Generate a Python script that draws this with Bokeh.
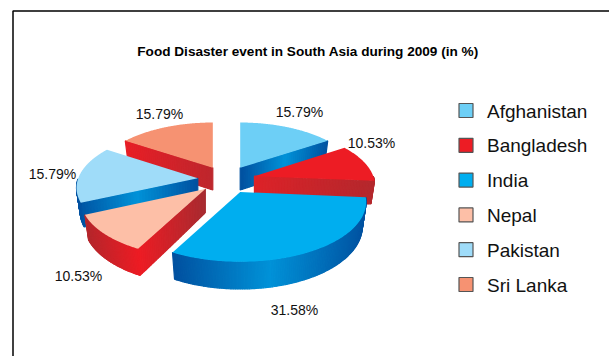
import math
from bokeh.core.properties import value
from bokeh.embed import file_html
from bokeh.models import ColumnDataSource, Range1d
from bokeh.plotting import figure
from bokeh.resources import INLINE

# Chart content
title_text = "Food Disaster event in South Asia during 2009 (in %)"
countries = ["Afghanistan", "Bangladesh", "India", "Nepal", "Pakistan", "Sri Lanka"]
shares = [15.79, 10.53, 31.58, 10.53, 15.79, 15.79]
top_colors = ["#6dcff6", "#ed1c24", "#00aeef", "#fdbfa7", "#9fdcf9", "#f69272"]

BLUE_WALL = [(0.0, "#00509f"), (0.5, "#0092d8"), (1.0, "#00509f")]
wall_ramps = {
    "Afghanistan": BLUE_WALL,
    "Bangladesh": [(0.0, "#dc2228"), (1.0, "#b3282d")],
    "India": [(0.0, "#00509f"), (0.5, "#0092d8"), (1.0, "#00509f")],
    "Nepal": [(0.0, "#b3282d"), (0.45, "#ed1c24"), (1.0, "#a62b30")],
    "Pakistan": BLUE_WALL,
    "Sri Lanka": [(0.0, "#e81e26"), (1.0, "#bd272d")],
}
label_anchor = {
    "Afghanistan": (299, 111), "Bangladesh": (371, 142), "India": (294, 309),
    "Nepal": (78, 275), "Pakistan": (52, 173), "Sri Lanka": (159, 113),
}
draw_order = ["Sri Lanka", "Afghanistan", "Pakistan", "Bangladesh", "Nepal", "India"]

# Pie projection, in page pixels
CX, CY = 226, 179
RX, RY = 120, 57.5
PERSP_X, PERSP_Y = 0.17, 0.15
EXPLODE = 0.24
DEPTH = 23


def project(apex, point, z=0.0):
    """Map a point given relative to its slice apex onto the page, z = 1 at the pie's base."""
    u, v = point
    py = apex[1] + v
    x = RX * (apex[0] + u * (1 + PERSP_X * py) * (1 - 0.03 * z))
    y = RY * py * (1 + PERSP_Y * py) + z * DEPTH * (1 + 0.15 * py)
    return CX + x, CY + y


def hex_rgb(c):
    return tuple(int(c[i:i + 2], 16) for i in (1, 3, 5))


def ramp_color(ramp, t):
    t = min(max(t, 0), 1)
    for (t0, c0), (t1, c1) in zip(ramp, ramp[1:]):
        if t <= t1:
            f = (t - t0) / (t1 - t0)
            a, b = hex_rgb(c0), hex_rgb(c1)
            return "#%02x%02x%02x" % tuple(round(a[i] + (b[i] - a[i]) * f) for i in range(3))
    return ramp[-1][1]


def slice_geometry(start, end):
    """Return the apex and rim of an exploded slice plus its visible wall paths."""
    mid = (start + end) / 2
    apex = (EXPLODE * math.sin(mid), -EXPLODE * math.cos(mid))
    n = 120
    rim = [start + (end - start) * i / n for i in range(n + 1)]
    rim_pts = [(math.sin(a), -math.cos(a)) for a in rim]
    paths = []
    if math.sin(start) < 0:
        paths.append([(0.0, 0.0), rim_pts[0]])
    front = [p for a, p in zip(rim, rim_pts) if math.cos(a) <= 0]
    if len(front) > 1:
        paths.append(front)
    if math.sin(end) > 0 and end < math.pi * 1.99:
        paths.append([rim_pts[-1], (0.0, 0.0)])
    return apex, rim_pts, paths


def subdivide(path, steps):
    out = []
    for (x0, y0), (x1, y1) in zip(path, path[1:]):
        for i in range(steps):
            f0, f1 = i / steps, (i + 1) / steps
            out.append(((x0 + (x1 - x0) * f0, y0 + (y1 - y0) * f0),
                        (x0 + (x1 - x0) * f1, y0 + (y1 - y0) * f1)))
    return out


p = figure(width=609, height=356, x_range=Range1d(0, 609), y_range=Range1d(356, 0),
           output_backend="svg", toolbar_location=None, min_border=0)
p.axis.visible = False
p.grid.visible = False
p.outline_line_color = None
p.background_fill_color = "white"
p.border_fill_color = "white"

# Chart frame, open on the right and bottom edges of the page
p.line([12.5, 12.5, 609], [356, 10.5, 10.5], line_color="black", line_width=1.5)

p.text([307.5], [51], text=[title_text], text_font=value("Liberation Sans"),
       text_font_style="bold", text_font_size="13.6px", text_align="center",
       text_baseline="middle", text_color="black")

# Slice angles accumulate clockwise from twelve o'clock
total = sum(shares)
spans = {}
running = 0.0
for name, share in zip(countries, shares):
    a0 = running / total * 2 * math.pi
    running += share
    spans[name] = (a0, running / total * 2 * math.pi)

for name in draw_order:
    i = countries.index(name)
    apex, rim_pts, paths = slice_geometry(*spans[name])
    segs = [s for path in paths for s in subdivide(path, 40 if len(path) == 2 else 1)]
    screen = [(project(apex, a), project(apex, a, 1), project(apex, b, 1), project(apex, b))
              for a, b in segs]
    xs_all = [q[0] for quad in screen for q in quad]
    lo, hi = min(xs_all), max(xs_all)
    xs, ys, colors = [], [], []
    for quad in screen:
        xs.append([q[0] for q in quad])
        ys.append([q[1] for q in quad])
        colors.append(ramp_color(wall_ramps[name], (sum(xs[-1]) / 4 - lo) / (hi - lo)))
    p.patches("xs", "ys", fill_color="colors", line_color="colors", line_width=1.2,
              source=ColumnDataSource(dict(xs=xs, ys=ys, colors=colors)))
    top = [project(apex, q) for q in [(0.0, 0.0)] + rim_pts]
    p.patch([q[0] for q in top], [q[1] for q in top], fill_color=top_colors[i], line_color=None)

# Percentage labels
for name, share in zip(countries, shares):
    x, y = label_anchor[name]
    p.text([x], [y], text=["%.2f%%" % share], text_font=value("Liberation Sans"),
           text_font_size="14px", text_align="center", text_baseline="middle", text_color="#111111")

# Legend
for i, name in enumerate(countries):
    row = 110 + i * 34.8
    p.rect([465.5], [row], width=14, height=14, fill_color=top_colors[i],
           line_color="#555555", line_width=1.2)
    p.text([486.5], [row + 0.5], text=[name], text_font=value("Liberation Sans"), text_font_size="19px",
           text_align="left", text_baseline="middle", text_color="#111111")

open("out.html", "w").write(file_html(p, INLINE))
